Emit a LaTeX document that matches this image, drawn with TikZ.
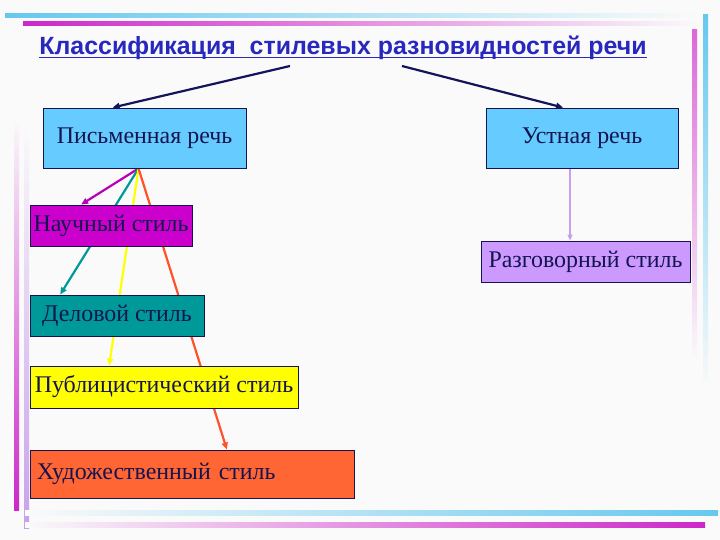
\documentclass[tikz,border=0pt]{standalone}
\usepackage{fontspec}
\setmainfont{Liberation Serif}
\newfontfamily\titlefont{Liberation Sans}
\usetikzlibrary{arrows.meta}

\definecolor{skyfill}{RGB}{102,204,255}
\definecolor{magfill}{RGB}{204,0,204}
\definecolor{tealfill}{RGB}{0,153,153}
\definecolor{yelfill}{RGB}{255,255,0}
\definecolor{orfill}{RGB}{255,102,51}
\definecolor{lavfill}{RGB}{204,153,255}
\definecolor{navytext}{RGB}{20,20,80}
\definecolor{titleblue}{RGB}{40,40,190}
\definecolor{navyline}{RGB}{20,20,90}
\definecolor{barblue}{RGB}{102,200,238}
\definecolor{barmag}{RGB}{204,40,200}
\definecolor{barlav}{RGB}{200,160,235}
\definecolor{pagebg}{RGB}{250,250,250}

\pgfdeclarelayer{bars}
\pgfdeclarelayer{lines}
\pgfsetlayers{bars,lines,main}

\begin{document}
\begin{tikzpicture}[x=1bp, y=-1bp,
		stylebox/.style={draw=navytext, line width=0.9bp, text=navytext, font=\fontsize{24}{27}\selectfont, inner sep=0pt},
		tip/.style={-{Triangle[length=7bp,width=6bp]}, line width=2.2bp}]
			\useasboundingbox (0,0) rectangle (720,540);
			
			% page and border bars
			\begin{pgfonlayer}{bars}
			\fill[pagebg] (0,0) rectangle (720,540);
			\shade[left color=barblue, right color=pagebg] (5,14) rectangle (700,18);
			\shade[left color=barmag, right color=pagebg] (23,22) rectangle (700,26);
			\shade[top color=barmag!70, bottom color=pagebg] (692,30) rectangle (697,360);
			\shade[top color=barblue, bottom color=pagebg] (703,15) rectangle (708,390);
			\shade[top color=pagebg, bottom color=barmag] (14,120) rectangle (19,510);
			\shade[top color=pagebg, bottom color=barlav] (24,125) rectangle (29,528);
			\shade[left color=pagebg, right color=barblue] (25,510) rectangle (718,515);
			\shade[left color=pagebg, right color=barmag] (25,522) rectangle (705,527);
			\end{pgfonlayer}
			
			\node (title) at (343,48) [inner sep=0pt, text=titleblue, font=\titlefont\bfseries\fontsize{25}{28}\selectfont]{Классификация\ \ стилевых разновидностей речи};
			\draw[titleblue, line width=1.6bp] ([yshift=-3]title.base west) -- ([yshift=-3]title.base east);
			
			\node (pis) at (144.5,138)[stylebox, fill=skyfill, minimum width=203bp, minimum height=60bp]{Письменная речь};
			\node (ust) at (582,138)[stylebox, fill=skyfill, minimum width=192bp, minimum height=60bp]{Устная речь};
			\node (razg) at (585.5,261.5)[stylebox, fill=lavfill, minimum width=209bp, minimum height=41bp]{Разговорный стиль};
			
			\node (nauch) at (111,225.5)[stylebox, fill=magfill, minimum width=162bp, minimum height=41bp]{Научный стиль};
			\node (delo) at (117,315.5)[stylebox, fill=tealfill, minimum width=174bp, minimum height=41bp]{Деловой стиль};
			\node (publ) at (164,387)[stylebox, fill=yelfill, minimum width=268bp, minimum height=42bp]{Публицистический стиль};
			\node (hud) at (192,474)[stylebox, fill=orfill, minimum height=48bp, text width=310bp, inner xsep=7bp, align=left]{Художественный стиль};
			
			\coordinate (tl) at (290,66);
			\coordinate (tr) at (402,66);
			
			\begin{pgfonlayer}{lines}
			\draw[tip, navyline] (tl) -- ([xshift=-32]pis.north);
			\draw[tip, navyline] (tr) -- ([xshift=-19]ust.north);
			\draw[tip, magfill!90!black] ([xshift=-6]pis.south) -- ([xshift=-30]nauch.north);
			\draw[tip, tealfill] ([xshift=-6]pis.south) -- ([xshift=-57]delo.north);
			\draw[tip, yelfill] ([xshift=-6]pis.south) -- ([xshift=-55]publ.north);
			\draw[tip, orfill!80!red] ([xshift=-6]pis.south) -- ([xshift=35]hud.north);
			\draw[-{Triangle[length=6bp,width=5bp]}, line width=1.3bp, barlav] ([xshift=-12]ust.south) -- ([xshift=-12]ust.south |- razg.north);
			\end{pgfonlayer}
		\end{tikzpicture}
\end{document}
